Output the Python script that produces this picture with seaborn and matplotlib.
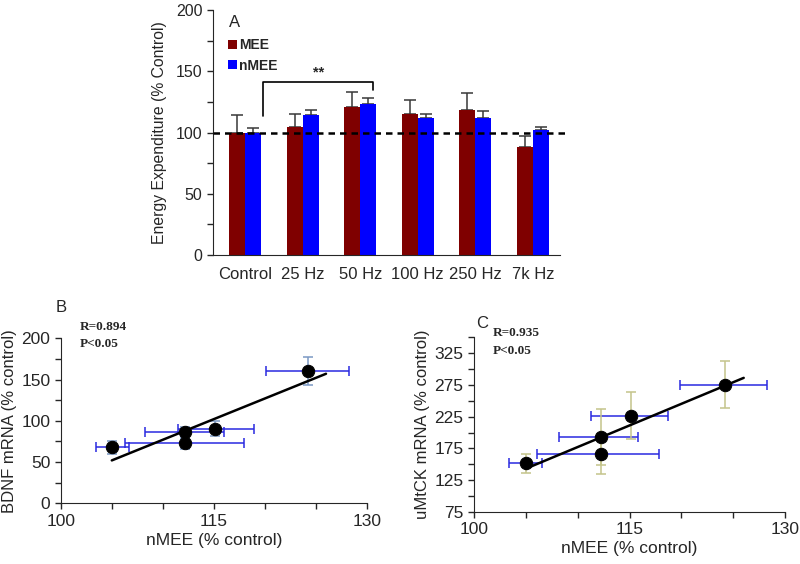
import numpy as np
import pandas as pd
import matplotlib
matplotlib.use("Agg")
import matplotlib.pyplot as plt
import seaborn as sns
from matplotlib.ticker import MultipleLocator

sns.set_style("ticks")
plt.rcParams['font.family'] = ['Liberation Sans', 'DejaVu Sans']

# panel A data
freqs = ["Control", "25 Hz", "50 Hz", "100 Hz", "250 Hz", "7k Hz"]
mee = [99.5, 104.5, 120.5, 115.5, 118.5, 88.5]
mee_err = [15.0, 11.0, 12.5, 11.0, 13.5, 8.5]
nmee = [99.5, 114.5, 123.5, 111.5, 111.5, 102.0]
nmee_err = [4.0, 4.0, 4.5, 4.0, 6.0, 2.5]

# panel B / C data (x = nMEE)
px = [105.0, 112.2, 112.2, 115.1, 124.2]
b_y = [68, 87, 72.5, 90.5, 160.5]
b_yerr = [8, 6, 6.5, 9.5, 17]
b_xlo = [103.5, 108.3, 106.3, 111.5, 120.1]
b_xhi = [106.7, 116.0, 118.0, 118.9, 128.3]

c_y = [151.5, 193.5, 166, 226.5, 275.5]
c_yerr = [15, 44, 32, 37.5, 37]
c_xlo = [103.4, 108.2, 106.1, 111.3, 119.9]
c_xhi = [106.6, 115.8, 117.8, 118.7, 128.2]

fit_x = [105.0, 126.0]

red = "#7f0000"
blue = "#0000ff"

fig = plt.figure(figsize=(8, 5.64), dpi=100)

# ---------------- panel A
axA = fig.add_axes([0.266, 0.548, 0.434, 0.434])
df = pd.DataFrame({
    "freq": freqs * 2,
    "val": mee + nmee,
    "grp": ["MEE"] * 6 + ["nMEE"] * 6,
})
sns.barplot(data=df, x="freq", y="val", hue="grp", palette=[red, blue],
            errorbar=None, width=0.56, saturation=1, linewidth=0, ax=axA)
for cont, errs in zip(axA.containers, [mee_err, nmee_err]):
    xs = [b.get_x() + b.get_width() / 2 for b in cont]
    ys = [b.get_height() for b in cont]
    axA.errorbar(xs, ys, yerr=[np.zeros(len(errs)), errs], fmt="none",
                 ecolor="#383838", elinewidth=1.1, capsize=4, capthick=1.1,
                 zorder=0.5)
axA.axhline(99.5, xmin=0, xmax=1.02, color="k", lw=1.8,
            ls=(0, (2.6, 2.0)), clip_on=False, zorder=5)
axA.plot([0.31, 0.31, 2.23, 2.23], [113.5, 141.5, 141.5, 135], color="k", lw=1.2)
axA.text(1.28, 149, "**", ha="center", va="center", fontsize=10.5, fontweight="bold")
axA.text(-0.28, 190, "A", ha="left", va="center", fontsize=12)
axA.legend(loc="upper left", bbox_to_anchor=(0.045, 0.885), frameon=False,
           handlelength=0.6, handleheight=0.6, handletextpad=0.15,
           borderpad=0, borderaxespad=0, labelspacing=0.45,
           prop={"weight": "bold", "size": 10})
axA.set_ylim(0, 200)
axA.set_xlim(-0.56, 5.47)
axA.yaxis.set_major_locator(MultipleLocator(50))
axA.yaxis.set_minor_locator(MultipleLocator(25))
axA.tick_params(axis="y", which="both", length=4, width=1, labelsize=11.5, direction="out")
axA.tick_params(axis="x", length=0, labelsize=12, pad=9)
axA.set_xlabel("")
axA.set_ylabel("Energy Expenditure (% Control)", fontsize=11.3, labelpad=6)
sns.despine(ax=axA)


def scatter_panel(ax, ys, yerr, xlo, xhi, ycol):
    xerr = [np.array(px) - np.array(xlo), np.array(xhi) - np.array(px)]
    ax.errorbar(px, ys, xerr=xerr, fmt="none", ecolor="#2a2ae0", elinewidth=1.1,
                capsize=3.5, capthick=1.1, zorder=2)
    ax.errorbar(px, ys, yerr=yerr, fmt="none", ecolor=ycol, elinewidth=1.1,
                capsize=3.5, capthick=1.1, zorder=2)
    slope, icpt = np.polyfit(px, ys, 1)
    fx = np.array(fit_x)
    sns.lineplot(x=fx, y=slope * fx + icpt, color="k", lw=1.8, ax=ax, zorder=3)
    sns.scatterplot(x=px, y=ys, color="k", s=80, edgecolor="k", ax=ax, zorder=4)
    ax.set_xlim(100, 130)
    ax.set_xticks([100, 115, 130])
    ax.xaxis.set_minor_locator(MultipleLocator(5))
    ax.tick_params(axis="both", which="both", length=4, width=1, labelsize=12.5, direction="out")
    ax.set_xlabel("nMEE (% control)", fontsize=12.5, labelpad=3)
    sns.despine(ax=ax)


# ---------------- panel B
axB = fig.add_axes([0.076, 0.1076, 0.3825, 0.2926])
scatter_panel(axB, b_y, b_yerr, b_xlo, b_xhi, "#7b98c4")
axB.set_ylim(0, 200)
axB.yaxis.set_major_locator(MultipleLocator(50))
axB.yaxis.set_minor_locator(MultipleLocator(25))
axB.set_ylabel("BDNF mRNA (% control)", fontsize=12, labelpad=3)

# ---------------- panel C
axC = fig.add_axes([0.5925, 0.0927, 0.389, 0.309])
scatter_panel(axC, c_y, c_yerr, c_xlo, c_xhi, "#c4c48a")
axC.set_ylim(75, 350)
axC.set_yticks([75, 125, 175, 225, 275, 325])
axC.yaxis.set_minor_locator(MultipleLocator(25))
axC.set_ylabel("uMtCK mRNA (% control)", fontsize=12, labelpad=3)

# panel letters and stats
fig.text(56 / 800, 1 - 308 / 564, "B", fontsize=12, va="center")
fig.text(476 / 800, 1 - 323 / 564, "C", fontsize=12, va="center")
serif = {"family": ["Liberation Serif", "DejaVu Serif"], "weight": "bold", "size": 9.5}
fig.text(80 / 800, 1 - 327 / 564, "R=0.894", va="center", fontdict=serif)
fig.text(80 / 800, 1 - 344 / 564, "P<0.05", va="center", fontdict=serif)
fig.text(493 / 800, 1 - 333 / 564, "R=0.935", va="center", fontdict=serif)
fig.text(493 / 800, 1 - 351 / 564, "P<0.05", va="center", fontdict=serif)

fig.savefig("out.png", dpi=100)
